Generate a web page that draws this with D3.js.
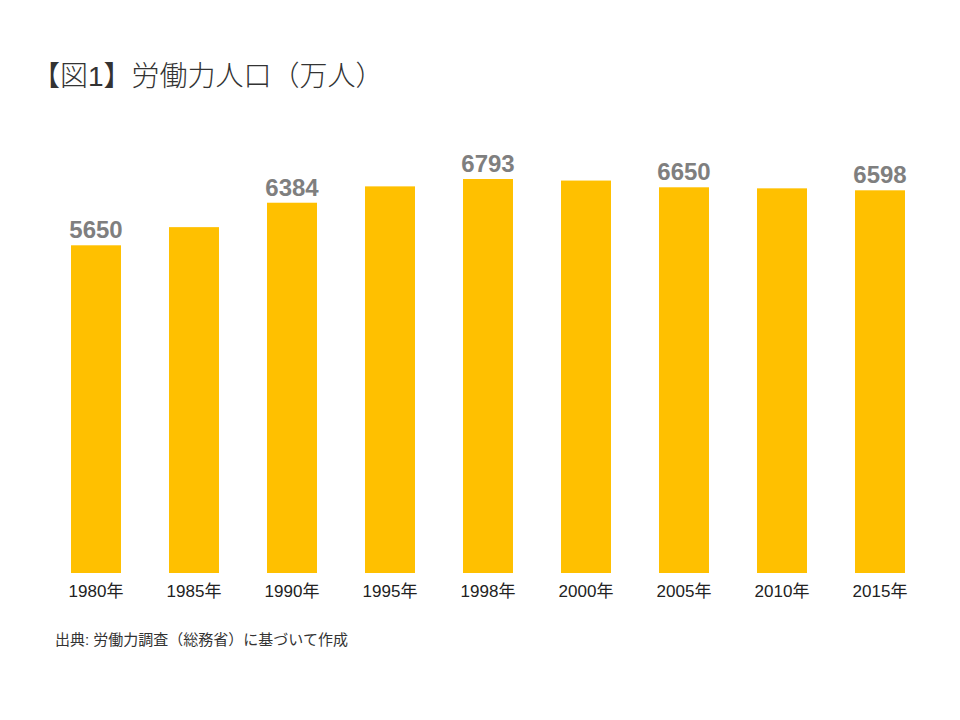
<!DOCTYPE html>
<html><head><meta charset="utf-8">
<script src="https://cdn.jsdelivr.net/npm/d3@7/dist/d3.min.js"></script>
<style>body{margin:0;background:#fff}</style>
</head><body><svg id="c" width="960" height="720"></svg>
<script>
const categories = ["1980年","1985年","1990年","1995年","1998年","2000年","2005年","2010年","2015年"];
const values = [5650,5963,6384,6666,6793,6766,6650,6632,6598];
const labeled = [true,false,true,false,true,false,true,false,true];
const svg = d3.select("#c");
const font = "'Liberation Sans','Noto Sans CJK JP',sans-serif";
const x = d3.scaleBand().domain(categories).range([47,929]).paddingInner(0.49).paddingOuter(0.245);
const y = d3.scaleLinear().domain([0,6793]).range([573,179]);
const rows = categories.map((c,i)=>({c,v:values[i],l:labeled[i]}));
svg.selectAll("rect").data(rows).join("rect")
  .attr("x",d=>x(d.c)).attr("width",x.bandwidth())
  .attr("y",d=>y(d.v)).attr("height",d=>y(0)-y(d.v)).attr("fill","#FFC000");
svg.selectAll(".v").data(rows.filter(d=>d.l)).join("text")
  .attr("x",d=>x(d.c)+x.bandwidth()/2).attr("y",d=>y(d.v)-7)
  .attr("text-anchor","middle").attr("font-family","'Liberation Sans',Arial,sans-serif")
  .attr("font-weight","bold").attr("font-size",24).attr("fill","#7f7f7f").text(d=>d.v);
const ax = svg.append("g").attr("transform","translate(0,573)").call(d3.axisBottom(x).tickSize(0).tickPadding(12));
ax.select(".domain").remove();
ax.selectAll("text").attr("font-family",font).attr("font-size",17).attr("fill","#222");
svg.append("text").attr("x",32).attr("y",86).attr("font-family",font).attr("font-weight",300).attr("font-size",28).attr("fill","#333").text("【図1】労働力人口（万人）");
svg.append("text").attr("x",55).attr("y",645).attr("font-family",font).attr("font-size",15).attr("fill","#333").text("出典: 労働力調査（総務省）に基づいて作成");
</script></body></html>
